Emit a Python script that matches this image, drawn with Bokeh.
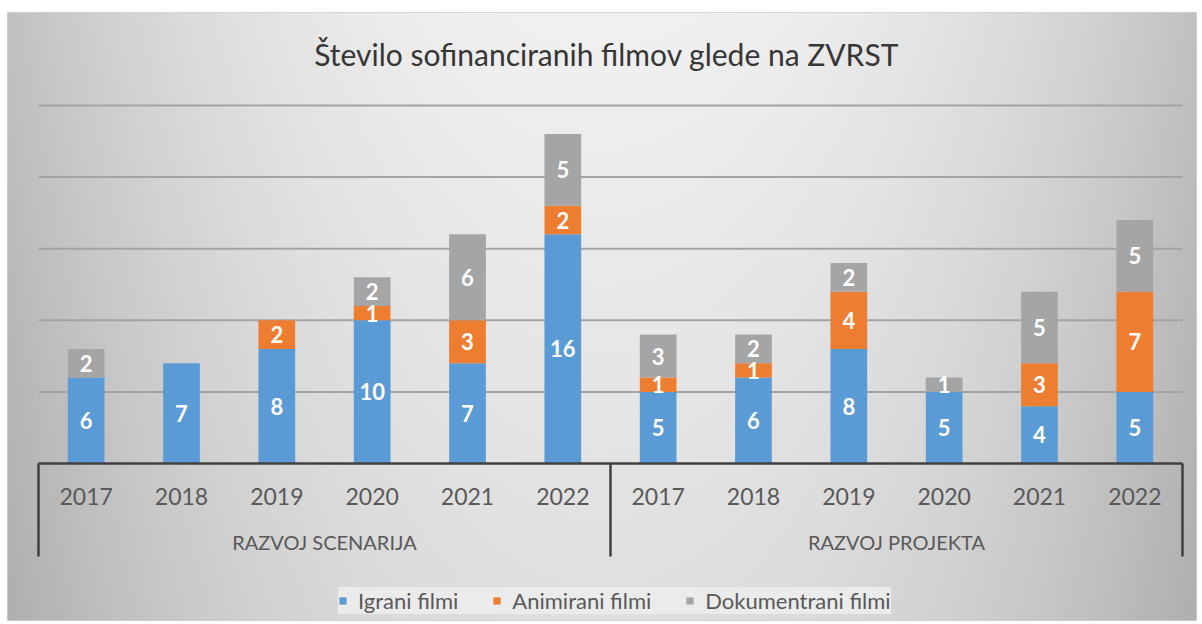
import numpy as np
from bokeh.plotting import figure
from bokeh.models import (Range1d, FixedTicker, Legend, LegendItem, Label,
                          ColumnDataSource)
from bokeh.core.properties import value
from bokeh.embed import file_html
from bokeh.resources import INLINE

# ---------------- data ----------------
title_text = "Število sofinanciranih  filmov glede na ZVRST"
groups = ["RAZVOJ SCENARIJA", "RAZVOJ PROJEKTA"]
years = ["2017", "2018", "2019", "2020", "2021", "2022"]
series_names = ["Igrani filmi", "Animirani filmi", "Dokumentrani filmi"]
igrani = [6, 7, 8, 10, 7, 16, 5, 6, 8, 5, 4, 5]
animirani = [0, 0, 2, 1, 3, 2, 1, 1, 4, 0, 3, 7]
dokumentarni = [2, 0, 0, 2, 6, 5, 3, 2, 2, 1, 5, 5]
grid_values = [5, 10, 15, 20, 25]

colors = ["#5b9bd5", "#ed7d31", "#a5a5a5"]
FONT = "Lato"

n_years = len(years)
n = len(groups) * n_years
xs = [i + 0.5 for i in range(n)]
year_labels = [years[i % n_years] for i in range(n)]

# ---------------- figure ----------------
W, H = 1202, 624
x0r, x1r = -0.325, n + 0.147
y0r, y1r = -10.96, 31.49
p = figure(width=W, height=H, output_backend="svg", toolbar_location=None,
           x_range=Range1d(x0r, x1r), y_range=Range1d(y0r, y1r),
           y_axis_location=None,
           min_border_left=7, min_border_right=6, min_border_top=12,
           min_border_bottom=4)
p.outline_line_color = "#cfcfcf"
p.background_fill_color = "#e4e4e4"
p.border_fill_color = "white"
p.xgrid.visible = False

# background gradient (style only)
cols, rows = 298, 152
u = np.linspace(0, 1, cols)[None, :]
v = np.linspace(1, 0, rows)[:, None]  # row 0 = bottom
inten = 241 - 48 * np.abs(2 * u - 1.0) ** 2.2 - 18 * v
inten = np.clip(inten, 0, 255).astype(np.uint8)
img = np.empty((rows, cols), dtype=np.uint32)
view = img.view(dtype=np.uint8).reshape((rows, cols, 4))
view[:, :, 0] = inten
view[:, :, 1] = inten
view[:, :, 2] = inten
view[:, :, 3] = 255
p.image_rgba(image=[img], x=x0r, y=y0r, dw=x1r - x0r, dh=y1r - y0r)

# gridlines
p.segment(x0=[0] * len(grid_values), y0=grid_values, x1=[n] * len(grid_values),
          y1=grid_values, line_color="#a3a3a3", line_width=2)

# bars
src = ColumnDataSource(dict(x=xs, igrani=igrani, animirani=animirani,
                            dokumentarni=dokumentarni))
keys = ["igrani", "animirani", "dokumentarni"]
renderers = p.vbar_stack(keys, x="x", width=0.385, color=colors, line_color=None,
                         source=src)

# data labels
lx, ly, lt = [], [], []
stacks = [igrani, animirani, dokumentarni]
for i in range(n):
    bottom = 0
    for s in stacks:
        val = s[i]
        if val > 0:
            lx.append(xs[i])
            ly.append(bottom + val / 2)
            lt.append(str(val))
        bottom += val
p.text(x=lx, y=ly, text=lt, text_align="center", text_baseline="middle",
       text_color="white", text_font=value(FONT), text_font_style="bold",
       text_font_size=value("22px"))

# category axis (years)
ax = p.xaxis[0]
ax.fixed_location = 0
ax.bounds = (0, n)
ax.ticker = FixedTicker(ticks=xs)
ax.major_label_overrides = {x: lab for x, lab in zip(xs, year_labels)}
ax.major_tick_line_color = None
ax.minor_tick_line_color = None
ax.axis_line_color = "#404040"
ax.axis_line_width = 2.5
ax.major_label_text_font = FONT
ax.major_label_text_font_size = "23px"
ax.major_label_text_color = "#595959"
ax.major_label_standoff = 18

# group separators and group labels
sep_x = [g * n_years for g in range(len(groups) + 1)]
p.segment(x0=sep_x, y0=[0] * len(sep_x), x1=sep_x, y1=[-6.5] * len(sep_x),
          line_color="#404040", line_width=2.5)
p.text(x=[g * n_years + n_years / 2 for g in range(len(groups))],
       y=[-5.45] * len(groups), text=groups, text_align="center",
       text_baseline="middle", text_color="#595959", text_font=value(FONT),
       text_font_size=value("20px"))

# title
p.add_layout(Label(x=n / 2, y=28.6, text=title_text, text_align="center",
                   text_baseline="middle", text_font=FONT, text_font_size="30px",
                   text_color="#363636", text_font_style="normal"))

# legend
legend = Legend(items=[LegendItem(label=name, renderers=[r])
                       for name, r in zip(series_names, renderers)],
                orientation="horizontal", location=(331, 6),
                glyph_width=9, glyph_height=9, label_standoff=11, spacing=34,
                padding=12, margin=0, label_height=22,
                background_fill_color="#ebebeb",
                background_fill_alpha=1, border_line_color=None,
                label_text_font=FONT, label_text_font_size="22px",
                label_text_color="#595959")
p.add_layout(legend, "center")

open("out.html", "w").write(file_html(p, INLINE))
